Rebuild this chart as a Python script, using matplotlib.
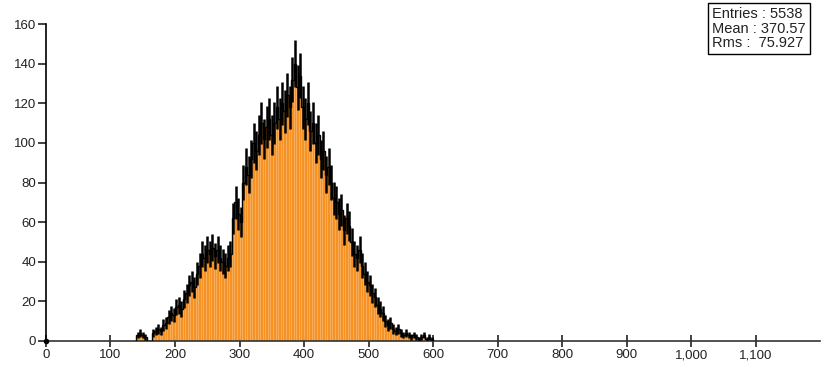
import numpy as np
import matplotlib
matplotlib.use("Agg")
import matplotlib.pyplot as plt
import matplotlib.ticker as ticker

plt.rcParams['font.family'] = ['Liberation Sans', 'DejaVu Sans']

# histogram contents, 4-unit bins starting at 140
bin_width = 4
first_edge = 140
counts = [3, 4, 3, 2, 0, 0, 4, 5, 6, 5,
          8, 9, 12, 14, 13, 17, 18, 16, 21, 24,
          28, 30, 27, 34, 38, 44, 42, 46, 44, 47,
          43, 46, 42, 40, 38, 42, 44, 62, 70, 64,
          60, 80, 88, 84, 92, 100, 96, 104, 110, 102,
          108, 112, 104, 110, 118, 112, 120, 116, 124, 118,
          132, 140, 128, 134, 118, 112, 120, 106, 110, 100,
          104, 92, 96, 84, 88, 80, 72, 70, 64, 66,
          56, 62, 58, 50, 44, 42, 46, 38, 34, 30,
          28, 24, 22, 18, 16, 14, 10, 8, 9, 6,
          5, 6, 4, 3, 4, 3, 2, 3, 2, 1,
          2, 3, 1, 2, 1]

stats_labels = ["Entries : 5538", "Mean : 370.57", "Rms :  75.927"]
x_ticks = [0, 100, 200, 300, 400, 500, 600, 700, 800, 900, 1000, 1100]
y_ticks = [0, 20, 40, 60, 80, 100, 120, 140, 160]

counts = np.array(counts, dtype=float)
left_edges = first_edge + bin_width * np.arange(len(counts))
centers = left_edges + bin_width / 2
errors = np.sqrt(counts)

fig = plt.figure(figsize=(8.21, 3.65), dpi=100)
ax = fig.add_axes([0.056, 0.066, 0.943, 0.868])

ax.bar(left_edges, counts, width=bin_width, align='edge',
       color='#f59226', edgecolor='#fbb463', linewidth=0.4, zorder=2)
# outline of the bin tops
edges = np.append(left_edges, left_edges[-1] + bin_width)
ax.stairs(counts, edges, color='black', linewidth=1.0, zorder=3)
ax.errorbar(centers, counts, yerr=errors, fmt='none', ecolor='black',
            elinewidth=1.8, capsize=0, zorder=3)

ax.set_xlim(0, 1200)
ax.set_ylim(0, 160)
ax.set_xticks(x_ticks)
ax.set_yticks(y_ticks)
ax.xaxis.set_major_formatter(ticker.FuncFormatter(lambda v, p: f"{int(v):,}"))

for side in ['top', 'right']:
    ax.spines[side].set_visible(False)
ax.spines['left'].set_linewidth(1.2)
ax.spines['bottom'].set_linewidth(1.2)
ax.spines['bottom'].set_color('#333333')
ax.tick_params(axis='x', direction='inout', length=8, width=1.2,
               labelsize=9.5, pad=2, colors='#222222')
ax.tick_params(axis='y', direction='out', length=6, width=1.2,
               labelsize=9.5, pad=1, colors='#222222')
ax.plot([0], [0], 'o', color='black', ms=3, clip_on=False, zorder=4)

fig.text(0.867, 0.980, "\n".join(stats_labels), fontsize=10.5, color='#222222',
         ha='left', va='top', linespacing=1.05,
         bbox=dict(boxstyle='square,pad=0.28', facecolor='white',
                   edgecolor='black', linewidth=1.0))

fig.savefig("out.png", dpi=100)
